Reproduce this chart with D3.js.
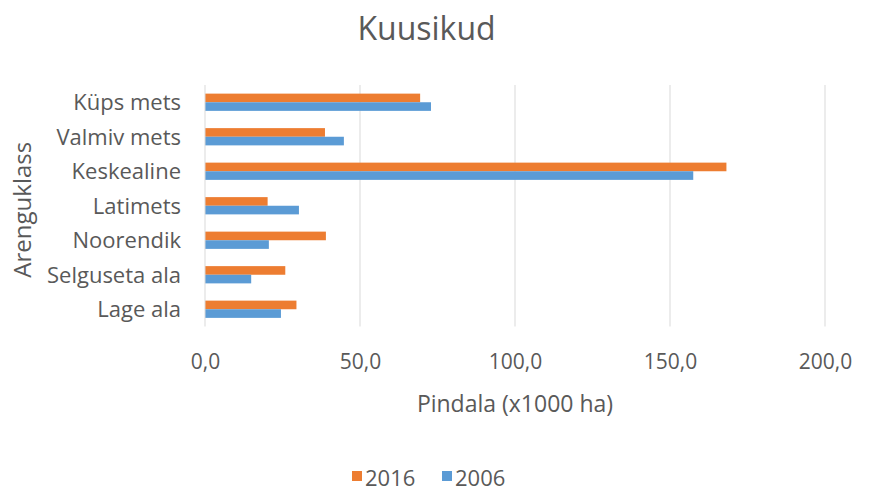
<!DOCTYPE html>
<html>
<head>
<meta charset="utf-8">
<style>
  body { margin: 0; background: #fff; }
  text { font-family: "Open Sans", "Liberation Sans", sans-serif; fill: #595959; }
</style>
<script src="https://d3js.org/d3.v7.min.js"></script>
</head>
<body>
<div class="home"></div>
<script>
    // data (x1000 ha)
    const categories = ["Küps mets", "Valmiv mets", "Keskealine", "Latimets", "Noorendik", "Selguseta ala", "Lage ala"];
    const seriesNames = ["2016", "2006"];
    const values2016 = [69.4, 38.7, 168.2, 20.2, 39.0, 25.9, 29.5];
    const values2006 = [72.9, 44.8, 157.5, 30.3, 20.6, 14.9, 24.5];
    const xTicks = [0, 50, 100, 150, 200];
    const colors = ["#ED7D31", "#5B9BD5"];

    const width = 869, height = 492;
    const margin = {top: 85, right: 44, bottom: 165.5, left: 205};
    const innerW = width - margin.left - margin.right;
    const innerH = height - margin.top - margin.bottom;

    const svg = d3.select(".home").append("svg")
        .attr("width", width)
        .attr("height", height);

    const g = svg.append("g")
        .attr("transform", `translate(${margin.left},${margin.top})`);

    const x = d3.scaleLinear().domain([0, 200]).range([0, innerW]);
    const y0 = d3.scaleBand().domain(categories).range([0, innerH])
        .paddingInner(0.5).paddingOuter(0.25);
    const y1 = d3.scaleBand().domain(seriesNames).range([0, y0.bandwidth()]);
    const color = d3.scaleOrdinal().domain(seriesNames).range(colors);

    const rows = categories.map((c, i) => ({cat: c, vals: [
        {key: "2016", v: values2016[i]},
        {key: "2006", v: values2006[i]}
    ]}));

    // gridlines
    g.append("g")
        .selectAll("line")
        .data(xTicks.slice(1))
        .join("line")
        .attr("x1", d => x(d)).attr("x2", d => x(d))
        .attr("y1", 0).attr("y2", innerH)
        .attr("stroke", "#d9d9d9").attr("stroke-width", 1);

    // bars
    g.append("g")
        .selectAll("g")
        .data(rows)
        .join("g")
        .attr("transform", d => `translate(0,${y0(d.cat)})`)
        .selectAll("rect")
        .data(d => d.vals)
        .join("rect")
        .attr("x", 0)
        .attr("y", d => y1(d.key))
        .attr("width", d => x(d.v))
        .attr("height", y1.bandwidth())
        .attr("fill", d => color(d.key));

    // vertical axis line at 0
    g.append("line")
        .attr("x1", 0).attr("x2", 0).attr("y1", 0).attr("y2", innerH)
        .attr("stroke", "#d9d9d9").attr("stroke-width", 1);

    // x axis labels
    const xAxis = g.append("g")
        .attr("transform", `translate(0,${innerH})`)
        .call(d3.axisBottom(x).tickValues(xTicks).tickSize(0).tickPadding(27.5)
            .tickFormat(d => d3.format(".1f")(d).replace(".", ",")));
    xAxis.select(".domain").remove();
    xAxis.selectAll("text").attr("font-size", 21).attr("fill", "#595959")
        .style("font-family", "'Open Sans', sans-serif");

    // y axis labels
    const yAxis = g.append("g")
        .call(d3.axisLeft(y0).tickSize(0).tickPadding(24));
    yAxis.select(".domain").remove();
    yAxis.selectAll("text").attr("font-size", 22).attr("fill", "#595959")
        .attr("dy", "0.36em")
        .style("font-family", "'Open Sans', sans-serif");

    // title
    svg.append("text")
        .attr("x", 426.5).attr("y", 40)
        .attr("text-anchor", "middle")
        .attr("font-size", 32)
        .text("Kuusikud");

    // axis titles
    svg.append("text")
        .attr("x", margin.left + innerW / 2).attr("y", 412)
        .attr("text-anchor", "middle")
        .attr("font-size", 23)
        .text("Pindala (x1000 ha)");

    svg.append("text")
        .attr("transform", `translate(31,${margin.top + innerH / 2 + 4}) rotate(-90)`)
        .attr("text-anchor", "middle")
        .attr("font-size", 24)
        .text("Arenguklass");

    // legend
    const legend = svg.append("g")
        .selectAll("g")
        .data(seriesNames)
        .join("g")
        .attr("transform", (d, i) => `translate(${352 + i * 90},471)`);
    legend.append("rect")
        .attr("width", 10).attr("height", 10)
        .attr("fill", d => color(d));
    legend.append("text")
        .attr("x", 13).attr("y", 15)
        .attr("font-size", 22)
        .text(d => d);
</script>
</body>
</html>
